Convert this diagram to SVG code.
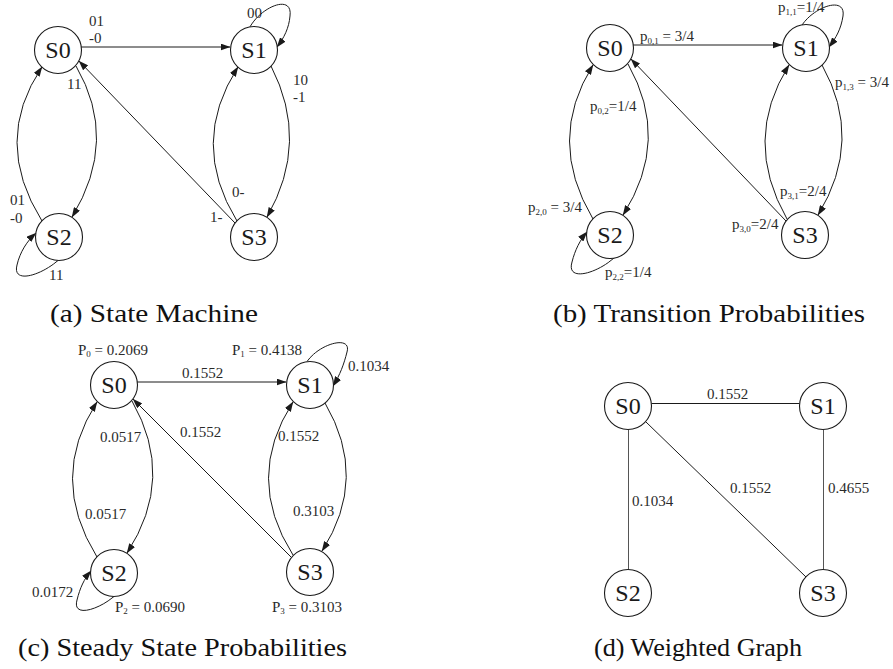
<svg xmlns="http://www.w3.org/2000/svg" xmlns:xlink="http://www.w3.org/1999/xlink" width="893" height="669" viewBox="0 0 893 669" font-family="'Liberation Serif', serif">
<defs>
<marker id="ah" viewBox="0 0 10 7" refX="9.5" refY="3.5" markerWidth="10" markerHeight="7" orient="auto" markerUnits="userSpaceOnUse"><path d="M0,0 L10,3.5 L0,7 z" fill="#1a1a1a" stroke="none"/></marker>
<circle id="nd" r="23.5" fill="#fff" stroke="#1a1a1a" stroke-width="1.1"/>
</defs>
<rect width="893" height="669" fill="#fff"/>

<!-- Panel (a) -->
<g id="a-connectors" fill="none" stroke="#1a1a1a" stroke-width="1" marker-end="url(#ah)">
<path d="M81,47 L230,47"/>
<path d="M250,26.8 C262,6 293,-6 290,16 C289,28 284,38 277,47"/>
<path d="M271,66 Q310,142 267,217"/>
<path d="M237,221 Q189,143 238,67"/>
<path d="M235,223 L79,61"/>
<path d="M76,66 Q119,140 72,217"/>
<path d="M42,221 Q-8,141 42,67"/>
<path d="M58,260.5 C40,276 12,284 17,265 C20,252 27,241 36,233"/>
</g>
<g id="a-labels" font-family="'Liberation Serif', serif" font-size="15" fill="#2a2a2a">
<text x="89" y="26">01</text><text x="89" y="43">-0</text>
<text x="247" y="18">00</text>
<text x="293" y="85">10</text><text x="293" y="102">-1</text>
<text x="232" y="197">0-</text>
<text x="210" y="222">1-</text>
<text x="67" y="89">11</text>
<text x="10" y="205">01</text><text x="10" y="223">-0</text>
<text x="49" y="280">11</text>
</g>
<g font-family="'Liberation Serif', serif" font-size="24" text-anchor="middle" fill="#1a1a1a">
<g id="a-S0"><use xlink:href="#nd" x="58" y="50"/><text x="58" y="58">S0</text></g>
<g id="a-S1"><use xlink:href="#nd" x="254" y="50"/><text x="254" y="58">S1</text></g>
<g id="a-S2"><use xlink:href="#nd" x="59" y="237"/><text x="59" y="245">S2</text></g>
<g id="a-S3"><use xlink:href="#nd" x="254" y="237"/><text x="254" y="245">S3</text></g>
</g>
<text font-family="'Liberation Serif', serif" font-size="26" fill="#111" x="50" y="322" textLength="208" lengthAdjust="spacingAndGlyphs">(a) State Machine</text>

<!-- Panel (b) -->
<g id="b-connectors" fill="none" stroke="#1a1a1a" stroke-width="1" marker-end="url(#ah)">
<path d="M633,45 L782,45"/>
<path d="M802,25 C815,6 846,-4 843,16 C841,29 836,38 829,47"/>
<path d="M822,65 Q864,140 818,215"/>
<path d="M787,219 Q742,140 789,65"/>
<path d="M786,221 L631,59"/>
<path d="M628,64 Q671,140 623,215"/>
<path d="M593,219 Q546,140 593,65"/>
<path d="M614,258 C596,274 566,282 572,262 C575,250 580,240 587,232"/>
</g>
<g id="b-labels" font-family="'Liberation Serif', serif" font-size="15" fill="#2a2a2a">
<text x="640" y="41">p<tspan font-size="9" dy="3">0,1</tspan><tspan dy="-3"> = 3/4</tspan></text>
<text x="778" y="12">p<tspan font-size="9" dy="3">1,1</tspan><tspan dy="-3">=1/4</tspan></text>
<text x="835" y="87">p<tspan font-size="9" dy="3">1,3</tspan><tspan dy="-3"> = 3/4</tspan></text>
<text x="780" y="196">p<tspan font-size="9" dy="3">3,1</tspan><tspan dy="-3">=2/4</tspan></text>
<text x="732" y="229">p<tspan font-size="9" dy="3">3,0</tspan><tspan dy="-3">=2/4</tspan></text>
<text x="590" y="111">p<tspan font-size="9" dy="3">0,2</tspan><tspan dy="-3">=1/4</tspan></text>
<text x="528" y="212">p<tspan font-size="9" dy="3">2,0</tspan><tspan dy="-3"> = 3/4</tspan></text>
<text x="605" y="277">p<tspan font-size="9" dy="3">2,2</tspan><tspan dy="-3">=1/4</tspan></text>
</g>
<g font-family="'Liberation Serif', serif" font-size="24" text-anchor="middle" fill="#1a1a1a">
<g id="b-S0"><use xlink:href="#nd" x="610" y="48"/><text x="610" y="56">S0</text></g>
<g id="b-S1"><use xlink:href="#nd" x="806" y="48"/><text x="806" y="56">S1</text></g>
<g id="b-S2"><use xlink:href="#nd" x="610" y="235"/><text x="610" y="243">S2</text></g>
<g id="b-S3"><use xlink:href="#nd" x="805" y="235"/><text x="805" y="243">S3</text></g>
</g>
<text font-family="'Liberation Serif', serif" font-size="26" fill="#111" x="553" y="322" textLength="312" lengthAdjust="spacingAndGlyphs">(b) Transition Probabilities</text>

<!-- Panel (c) -->
<g id="c-connectors" fill="none" stroke="#1a1a1a" stroke-width="1" marker-end="url(#ah)">
<path d="M137,382 L286,382"/>
<path d="M307,361.5 C320,343 352,335 347,352 C344,364 340,375 333,386"/>
<path d="M325,403 Q369,478 322,551"/>
<path d="M293,555 Q244,478 293,402"/>
<path d="M291,557 L133,399"/>
<path d="M132,401 Q176,478 127,553"/>
<path d="M97,557 Q48,478 97,402"/>
<path d="M114,596.5 C98,610 72,618 77,600 C80,588 84,579 91,571"/>
</g>
<g id="c-labels" font-family="'Liberation Serif', serif" font-size="15" fill="#2a2a2a">
<text x="78" y="355">P<tspan font-size="9" dy="2">0</tspan><tspan dy="-2"> = 0.2069</tspan></text>
<text x="232" y="355">P<tspan font-size="9" dy="2">1</tspan><tspan dy="-2"> = 0.4138</tspan></text>
<text x="182" y="378">0.1552</text>
<text x="348" y="371">0.1034</text>
<text x="278" y="441">0.1552</text>
<text x="180" y="437">0.1552</text>
<text x="100" y="442">0.0517</text>
<text x="85" y="519">0.0517</text>
<text x="293" y="516">0.3103</text>
<text x="32" y="597">0.0172</text>
<text x="115" y="612">P<tspan font-size="9" dy="2">2</tspan><tspan dy="-2"> = 0.0690</tspan></text>
<text x="272" y="612">P<tspan font-size="9" dy="2">3</tspan><tspan dy="-2"> = 0.3103</tspan></text>
</g>
<g font-family="'Liberation Serif', serif" font-size="24" text-anchor="middle" fill="#1a1a1a">
<g id="c-S0"><use xlink:href="#nd" x="114" y="385"/><text x="114" y="393">S0</text></g>
<g id="c-S1"><use xlink:href="#nd" x="310" y="385"/><text x="310" y="393">S1</text></g>
<g id="c-S2"><use xlink:href="#nd" x="114" y="573"/><text x="114" y="581">S2</text></g>
<g id="c-S3"><use xlink:href="#nd" x="310" y="572"/><text x="310" y="580">S3</text></g>
</g>
<text font-family="'Liberation Serif', serif" font-size="26" fill="#111" x="18" y="656" textLength="329" lengthAdjust="spacingAndGlyphs">(c) Steady State Probabilities</text>

<!-- Panel (d) -->
<g id="d-connectors" fill="none" stroke="#1a1a1a" stroke-width="1">
<path d="M651.5,403.5 L799.5,403.5"/>
<path d="M628.5,430 L628.5,569.5" stroke="#555"/>
<path d="M823.5,430 L823.5,569.5" stroke="#555"/>
<path d="M646,422 L806,577"/>
</g>
<g id="d-labels" font-family="'Liberation Serif', serif" font-size="15" fill="#2a2a2a">
<text x="707" y="399">0.1552</text>
<text x="632" y="506">0.1034</text>
<text x="828" y="493">0.4655</text>
<text x="730" y="493">0.1552</text>
</g>
<g font-family="'Liberation Serif', serif" font-size="24" text-anchor="middle" fill="#1a1a1a">
<g id="d-S0"><use xlink:href="#nd" x="628" y="406"/><text x="628" y="414">S0</text></g>
<g id="d-S1"><use xlink:href="#nd" x="823" y="406"/><text x="823" y="414">S1</text></g>
<g id="d-S2"><use xlink:href="#nd" x="628" y="593"/><text x="628" y="601">S2</text></g>
<g id="d-S3"><use xlink:href="#nd" x="823" y="593"/><text x="823" y="601">S3</text></g>
</g>
<text font-family="'Liberation Serif', serif" font-size="26" fill="#111" x="594" y="656" textLength="208" lengthAdjust="spacingAndGlyphs">(d) Weighted Graph</text>
</svg>
